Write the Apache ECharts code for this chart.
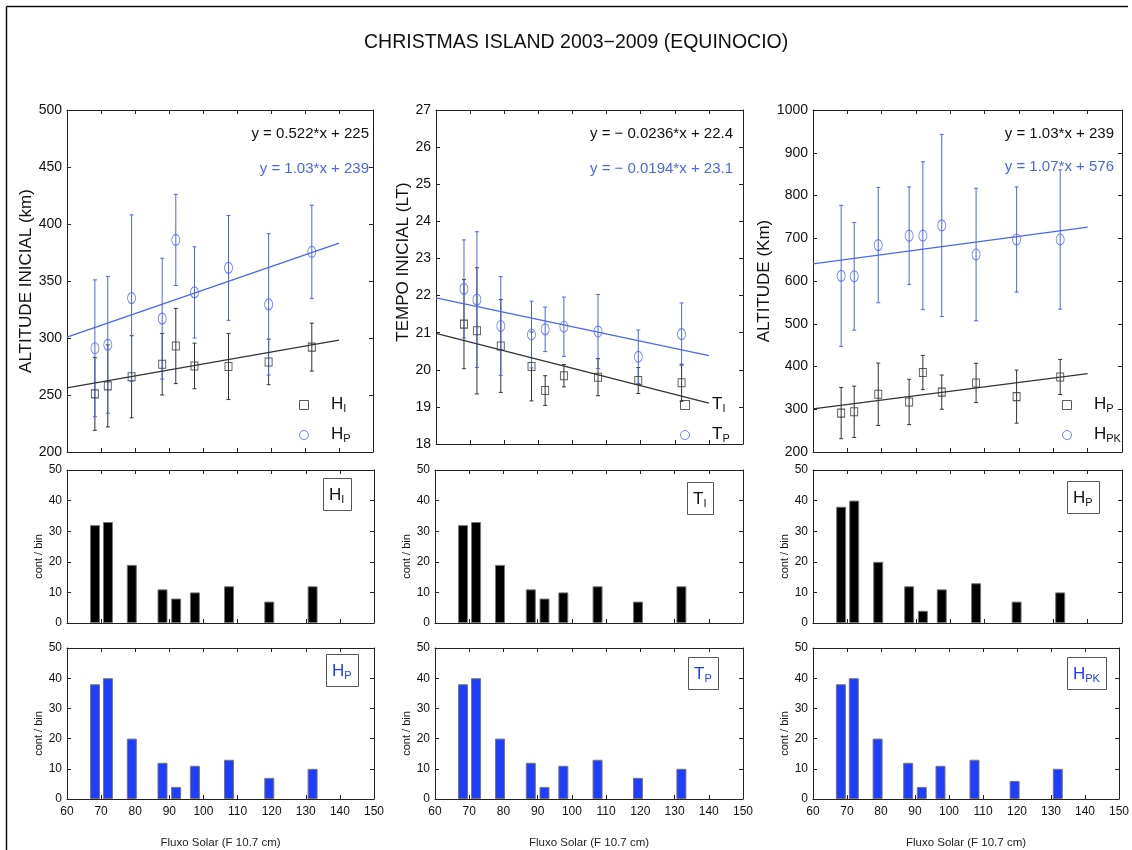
<!DOCTYPE html>
<html>
<head>
<meta charset="utf-8">
<script src="https://cdn.jsdelivr.net/npm/echarts@6/dist/echarts.min.js"></script>
<style>
  html, body { margin: 0; padding: 0; background: #fff; }
  #chart { width: 1132px; height: 850px; }
</style>
</head>
<body>
<div id="chart"></div>
<script>
// fluxo solar (F10.7) de cada bin
const fluxSolar = [68.2, 72, 79, 88, 92, 97.5, 107.5, 119.3, 132];

// altitude inicial H_I e altitude do pico H_P (km)
const hiAlt = [251, 258, 266, 277, 293, 275.5, 275, 279, 292];
const hiErr = [32, 36, 36, 27, 33, 20, 29, 20, 21];
const hpAlt = [291, 294, 335, 317, 386, 340, 361.5, 329.5, 375.5];
const hpErr = [60, 60, 73, 53, 40, 40, 46, 62, 41];

// tempo inicial T_I e tempo do pico T_P (LT)
const tiTime = [21.23, 21.05, 20.64, 20.09, 19.44, 19.84, 19.8, 19.71, 19.65];
const tiErr = [1.2, 1.7, 1.25, 0.93, 0.4, 0.3, 0.5, 0.35, 0.5];
const tpTime = [22.18, 21.89, 21.18, 20.95, 21.09, 21.16, 21.03, 20.35, 20.96];
const tpErr = [1.32, 1.83, 1.33, 0.9, 0.6, 0.8, 1.0, 0.72, 0.84];

// altitude H_PK (km)
const hpkAlt = [612, 611, 684, 706, 706, 730, 662, 697, 697];
const hpkErr = [165, 126, 135, 114, 173, 213, 155, 123, 163];

// retas ajustadas (extremos)
const fitHI = [[60, 256.3], [140, 298.1]];
const fitHP = [[60, 300.8], [140, 383.2]];
const fitTI = [[60, 20.98], [140, 19.1]];
const fitTP = [[60, 21.94], [140, 20.38]];
const fitHPK = [[60, 640.2], [140, 725.8]];

// contagens por bin
const countHI = [32, 33, 19, 11, 8, 10, 12, 7, 12];
const countHP = [38, 40, 20, 12, 4, 11, 13, 7, 10];
const countTI = [32, 33, 19, 11, 8, 10, 12, 7, 12];
const countTP = [38, 40, 20, 12, 4, 11, 13, 7, 10];
const countHP3 = [38, 40, 20, 12, 4, 11, 13, 7, 10];
const countHPK = [38, 40, 20, 12, 4, 11, 13, 6, 10];

const FONT = '"Liberation Sans", Arial, sans-serif';
const AX = '#222';
const BLACK = '#333';
const BLUE = '#4a66f0';
const BAR_BLUE = '#1f3dff';
const SQUARE = 'path://M0,0H10V10H0Z';
const ELLIPSE = 'path://M0,5A5,5,0,1,1,10,5A5,5,0,1,1,0,5Z';

const chart = echarts.init(document.getElementById('chart'));

// posicoes dos 9 paineis
const grids = [
  { left: 67, top: 110, width: 306, height: 342 },
  { left: 436, top: 110, width: 307, height: 334 },
  { left: 813, top: 110, width: 309, height: 342 },
  { left: 67, top: 470, width: 307, height: 153 },
  { left: 435, top: 470, width: 308, height: 153 },
  { left: 813, top: 470, width: 309, height: 153 },
  { left: 67, top: 648, width: 307, height: 151 },
  { left: 435, top: 648, width: 308, height: 151 },
  { left: 813, top: 648, width: 309, height: 151 }
];

const tickBase = {
  axisLine: { show: true, onZero: false, lineStyle: { color: AX, width: 1 } },
  axisTick: { show: true, inside: true, length: 4, lineStyle: { color: AX } },
  splitLine: { show: false }
};

function xPair(i, withLabels) {
  const base = Object.assign({ gridIndex: i, type: 'value', min: 60, max: 150, interval: 10 }, tickBase);
  const bottom = Object.assign({}, base, {
    position: 'bottom',
    axisLabel: { show: withLabels, margin: 7, fontSize: 12, color: '#111', fontFamily: FONT }
  });
  if (withLabels) {
    bottom.name = 'Fluxo Solar (F 10.7 cm)';
    bottom.nameLocation = 'middle';
    bottom.nameGap = 38;
    bottom.nameTextStyle = { fontSize: 11.5, color: '#222', fontFamily: FONT };
  }
  const top = Object.assign({}, base, { position: 'top', axisLabel: { show: false } });
  return [bottom, top];
}

function yPair(i, min, max, step, fontSize, name, nameGap, nameSize, namePad) {
  const base = Object.assign({ gridIndex: i, type: 'value', min: min, max: max, interval: step }, tickBase);
  const left = Object.assign({}, base, {
    position: 'left',
    axisLabel: { margin: 5, fontSize: fontSize, color: '#111', fontFamily: FONT, formatter: v => String(v) },
    name: name,
    nameLocation: 'middle',
    nameGap: nameGap,
    nameTextStyle: { fontSize: nameSize, color: '#111', fontFamily: FONT, padding: namePad }
  });
  const right = Object.assign({}, base, { position: 'right', axisLabel: { show: false } });
  return [left, right];
}

const xAxis = [];
const yAxis = [];
for (let i = 0; i < 9; i++) xAxis.push(...xPair(i, i >= 6));
yAxis.push(...yPair(0, 200, 500, 50, 14, 'ALTITUDE INICIAL (km)', 31, 17, [0, 0, 0, 0]));
yAxis.push(...yPair(1, 18, 27, 1, 14, 'TEMPO INICIAL (LT)', 22, 17, [0, 0, 0, 30]));
yAxis.push(...yPair(2, 200, 1000, 100, 14, 'ALTITUDE (Km)', 39, 17, [0, 0, 0, 0]));
const histGap = [23, 21, 20];
for (let i = 3; i < 9; i++) {
  yAxis.push(...yPair(i, 0, 50, 10, 12, 'cont / bin', histGap[i % 3], 11, [0, 20, 0, 0]));
}

function errorBars(i, ys, es, color) {
  return {
    type: 'custom',
    xAxisIndex: 2 * i,
    yAxisIndex: 2 * i,
    silent: true,
    data: fluxSolar.map((x, k) => [x, ys[k] - es[k], ys[k] + es[k]]),
    encode: { x: 0, y: [1, 2] },
    renderItem: function (params, api) {
      const lo = api.coord([api.value(0), api.value(1)]);
      const hi = api.coord([api.value(0), api.value(2)]);
      const c = 2;
      const st = { stroke: color, lineWidth: 1 };
      return {
        type: 'group',
        children: [
          { type: 'line', shape: { x1: lo[0], y1: lo[1], x2: hi[0], y2: hi[1] }, style: st },
          { type: 'line', shape: { x1: lo[0] - c, y1: lo[1], x2: lo[0] + c, y2: lo[1] }, style: st },
          { type: 'line', shape: { x1: hi[0] - c, y1: hi[1], x2: hi[0] + c, y2: hi[1] }, style: st }
        ]
      };
    }
  };
}

function points(i, name, ys, color, isCircle) {
  return {
    type: 'scatter',
    name: name,
    xAxisIndex: 2 * i,
    yAxisIndex: 2 * i,
    data: fluxSolar.map((x, k) => [x, ys[k]]),
    symbol: isCircle ? ELLIPSE : SQUARE,
    symbolSize: isCircle ? [8, 11] : [7, 8],
    symbolKeepAspect: false,
    itemStyle: { color: 'rgba(255,255,255,0)', borderColor: color, borderWidth: 1 },
    z: 3
  };
}

function fitLine(i, pts, color) {
  return {
    type: 'line',
    xAxisIndex: 2 * i,
    yAxisIndex: 2 * i,
    data: pts,
    symbol: 'none',
    silent: true,
    lineStyle: { color: color, width: 1.3 },
    z: 2
  };
}

function bars(i, counts, color) {
  return {
    type: 'bar',
    xAxisIndex: 2 * i,
    yAxisIndex: 2 * i,
    data: fluxSolar.map((x, k) => [x, counts[k]]),
    barWidth: 10,
    itemStyle: { color: color, borderColor: '#777', borderWidth: 1 }
  };
}

const series = [
  // painel 1
  errorBars(0, hiAlt, hiErr, BLACK),
  points(0, 'H_I', hiAlt, BLACK, false),
  errorBars(0, hpAlt, hpErr, BLUE),
  points(0, 'H_P', hpAlt, BLUE, true),
  fitLine(0, fitHI, BLACK),
  fitLine(0, fitHP, BLUE),
  // painel 2
  errorBars(1, tiTime, tiErr, BLACK),
  points(1, 'T_I', tiTime, BLACK, false),
  errorBars(1, tpTime, tpErr, BLUE),
  points(1, 'T_P', tpTime, BLUE, true),
  fitLine(1, fitTI, BLACK),
  fitLine(1, fitTP, BLUE),
  // painel 3
  errorBars(2, hpAlt, hpErr, BLACK),
  points(2, 'H_P3', hpAlt, BLACK, false),
  errorBars(2, hpkAlt, hpkErr, BLUE),
  points(2, 'H_PK', hpkAlt, BLUE, true),
  fitLine(2, fitHP, BLACK),
  fitLine(2, fitHPK, BLUE),
  // histogramas
  bars(3, countHI, '#000'),
  bars(4, countTI, '#000'),
  bars(5, countHP3, '#000'),
  bars(6, countHP, BAR_BLUE),
  bars(7, countTP, BAR_BLUE),
  bars(8, countHPK, BAR_BLUE)
];

const subRich = (color, big) => ({
  n: { fontSize: big, fontWeight: 'normal', color: color, fontFamily: FONT, lineHeight: 18, verticalAlign: 'top' },
  s: { fontSize: 11, fontWeight: 'normal', color: color, fontFamily: FONT, lineHeight: 11, padding: [12, 0, 0, 0], verticalAlign: 'bottom' }
});

const legendText = {
  H_I: '{n|H}{s|I}', H_P: '{n|H}{s|P}', T_I: '{n|T}{s|I}', T_P: '{n|T}{s|P}',
  H_P3: '{n|H}{s|P}', H_PK: '{n|H}{s|PK}'
};

function legendAt(left, sqName, circName) {
  return {
    orient: 'vertical',
    left: left,
    top: 391,
    padding: 0,
    itemWidth: 44,
    itemHeight: 9,
    itemGap: 7,
    selectedMode: false,
    symbolKeepAspect: true,
    data: [
      { name: sqName, icon: SQUARE, itemStyle: { color: 'rgba(255,255,255,0)', borderColor: BLACK, borderWidth: 1 } },
      { name: circName, icon: ELLIPSE, itemStyle: { color: 'rgba(255,255,255,0)', borderColor: BLUE, borderWidth: 1 } }
    ],
    formatter: n => legendText[n],
    textStyle: { fontWeight: 'normal', rich: subRich('#111', 17) }
  };
}

function eq(text, right, top, color) {
  return {
    text: text, right: right, top: top, padding: 0,
    textStyle: { fontSize: 15, fontWeight: 'normal', color: color, fontFamily: FONT }
  };
}

function boxLabel(text, left, top, color) {
  return {
    text: text, left: left, top: top, padding: [4, 7, 6, 6],
    borderColor: '#555', borderWidth: 1,
    textStyle: { fontWeight: 'normal', rich: subRich(color, 17) }
  };
}

const title = [
  {
    text: 'CHRISTMAS ISLAND 2003\u22122009 (EQUINOCIO)', left: 364, top: 33, padding: 0,
    textStyle: { fontSize: 19.5, fontWeight: 'normal', color: '#111', fontFamily: FONT }
  },
  eq('y = 0.522*x + 225', 763, 126, '#111'),
  eq('y = 1.03*x + 239', 763, 161, BLUE),
  eq('y = \u2212 0.0236*x + 22.4', 399, 126, '#111'),
  eq('y = \u2212 0.0194*x + 23.1', 399, 161, BLUE),
  eq('y = 1.03*x + 239', 18, 126, '#111'),
  eq('y = 1.07*x + 576', 18, 159, BLUE),
  boxLabel('{n|H}{s|I}', 323, 483, '#111'),
  boxLabel('{n|T}{s|I}', 687, 487, '#111'),
  boxLabel('{n|H}{s|P}', 1067, 486, '#111'),
  boxLabel('{n|H}{s|P}', 326, 659, BAR_BLUE),
  boxLabel('{n|T}{s|P}', 688, 662, BAR_BLUE),
  boxLabel('{n|H}{s|PK}', 1067, 662, BAR_BLUE)
];

const option = {
  backgroundColor: '#fff',
  animation: false,
  title: title,
  legend: [
    legendAt(299, 'H_I', 'H_P'),
    legendAt(680, 'T_I', 'T_P'),
    legendAt(1062, 'H_P3', 'H_PK')
  ],
  grid: grids,
  xAxis: xAxis,
  yAxis: yAxis,
  series: series,
  graphic: [
    { type: 'line', shape: { x1: 6.5, y1: 6.5, x2: 1128, y2: 6.5 }, style: { stroke: '#111', lineWidth: 1.5 } },
    { type: 'line', shape: { x1: 6.5, y1: 6.5, x2: 6.5, y2: 850 }, style: { stroke: '#111', lineWidth: 1.5 } }
  ]
};

chart.setOption(option);
</script>
</body>
</html>
